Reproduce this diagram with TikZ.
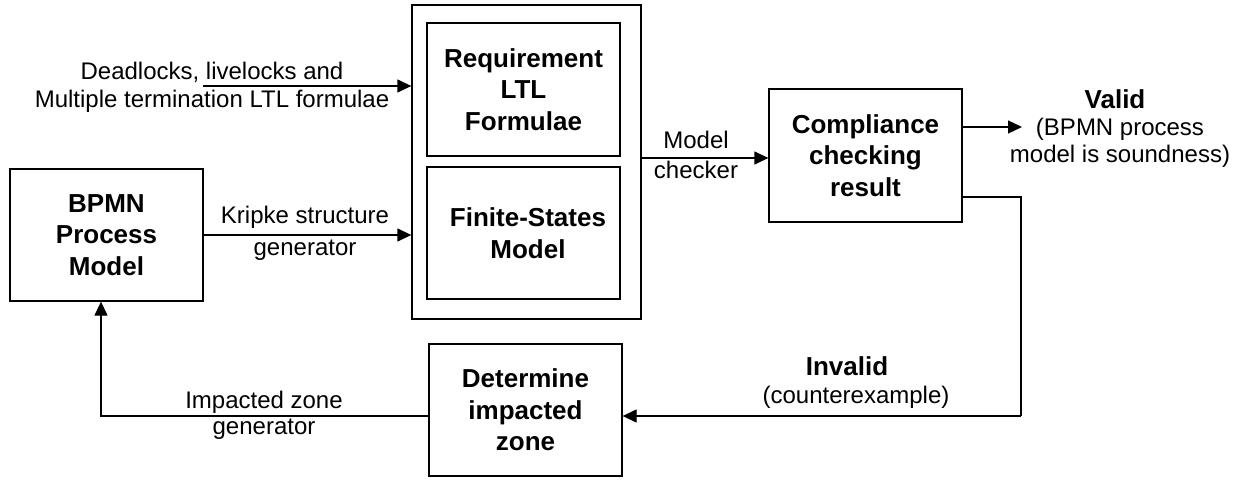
\documentclass[tikz,border=0pt]{standalone}
\usepackage{fontspec}
\setmainfont{Liberation Sans}
\usetikzlibrary{arrows.meta}
\begin{document}
\begin{tikzpicture}[x=1pt,y=-1pt,
  box/.style={draw, line width=1.3pt, inner sep=0pt, align=center,
    font=\fontsize{26}{31.5}\selectfont\bfseries},
  lbl/.style={inner sep=0pt, align=center, anchor=base},
  arr/.style={line width=1.3pt, -{Triangle[length=14pt,width=13pt]}},
  ln/.style={line width=1.3pt}]
\useasboundingbox (0,0) rectangle (1250,481);
% boxes
\node[box, minimum width=193pt, minimum height=132pt] (bpmn) at (106.5,235) {BPMN\\Process\\Model};
\node[box, minimum width=229pt, minimum height=314pt] (outer) at (526.5,162) {};
\node[box, minimum width=193pt, minimum height=133pt] (req) at (523.5,89.5) {Requirement\\LTL\\Formulae};
\node[box, minimum width=193pt, minimum height=132pt] (fsm) at (523.5,233) {\hspace*{9pt}Finite-States\\\hspace*{9pt}Model};
\node[box, minimum width=193pt, minimum height=133pt] (comp) at (865.5,155.5) {Compliance\\checking\\result};
\node[box, minimum width=193pt, minimum height=132pt] (det) at (525.5,410) {Determine\\impacted\\zone};
% labels (base anchor = baseline of the last line)
\node[lbl, font=\fontsize{24}{28}\selectfont] (dltext) at (212,108) {Deadlocks, livelocks and\\Multiple termination LTL formulae};
\node[lbl, font=\fontsize{24}{32}\selectfont] (kstext) at (305,255) {Kripke structure\\generator};
\node[lbl, font=\fontsize{24}{30}\selectfont] (mctext) at (696,178.5) {Model\\checker};
\node[lbl, font=\fontsize{24}{27}\selectfont] (valtext) at (1120,163) {{\fontsize{26}{27}\selectfont\bfseries Valid}\hspace*{10pt}\\(BPMN process\\model is soundness)};
\node[lbl, font=\fontsize{26}{27}\selectfont\bfseries] (invtext) at (847,375) {Invalid};
\node[lbl, font=\fontsize{24}{27}\selectfont] (cetext) at (856,403) {(counterexample)};
\node[lbl, font=\fontsize{24}{26}\selectfont] (iztext) at (264,434.5) {Impacted zone\\generator};
% connectors
\coordinate (dls) at (203,86);
\draw[arr] (dls) -- (dls -| outer.west);
\draw[arr] (bpmn.east) -- (bpmn.east -| outer.west);
\coordinate (mcs) at (641,158);
\draw[arr] (mcs -| outer.east) -- (mcs -| comp.west);
\coordinate (vend) at (1022,127);
\draw[arr] (vend -| comp.east) -- (vend);
\coordinate (c1) at (1021,197);
\coordinate (c2) at (1021,416);
\draw[ln] (c1 -| comp.east) -- (c1) -- (c2);
\draw[arr] (c2) -- (c2 -| det.east);
\coordinate (c3) at (101,416);
\draw[arr] (c3 -| det.west) -- (c3) -- (c3 |- bpmn.south);
\end{tikzpicture}
\end{document}
